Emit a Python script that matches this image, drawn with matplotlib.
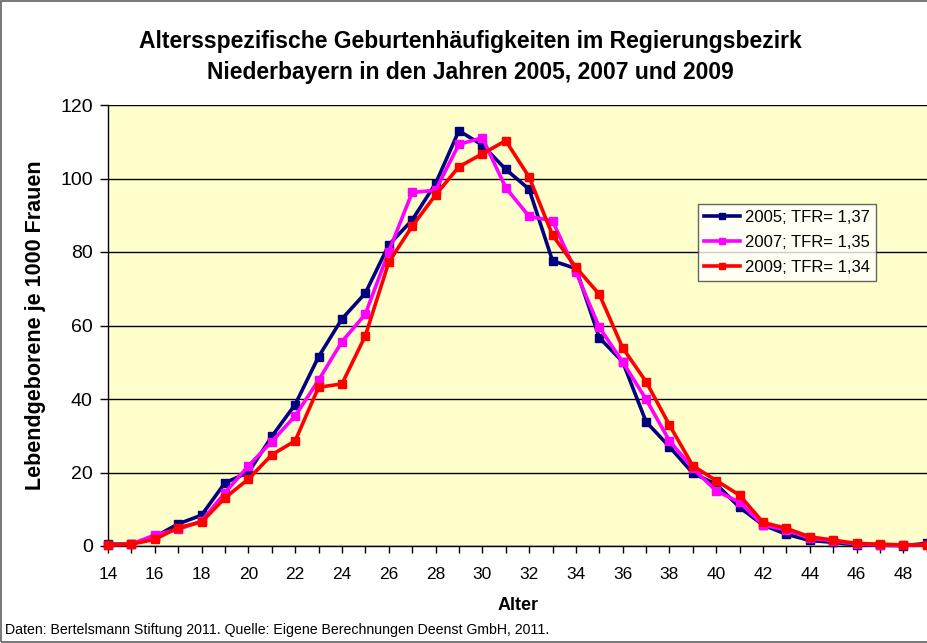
import matplotlib.pyplot as plt
import numpy as np
from matplotlib.patches import Rectangle

plt.rcParams['font.family'] = ['Liberation Sans', 'DejaVu Sans']

ages = list(range(14, 50))

rate_2005 = [0.5, 0.5, 2.5, 6.0, 8.4, 17.2, 20.0, 29.8, 38.5, 51.5, 61.8, 68.8,
             81.9, 88.7, 98.6, 113.0, 109.1, 102.5, 97.1, 77.6, 75.5, 56.7, 50.1,
             33.8, 27.0, 19.8, 16.8, 10.5, 5.7, 3.2, 1.5, 1.0, 0.3, 0.2, 0.1, 0.7]
rate_2007 = [0.3, 0.5, 3.0, 4.5, 6.8, 14.5, 21.8, 28.4, 35.4, 45.1, 55.6, 63.1,
             80.1, 96.2, 96.8, 109.3, 111.1, 97.5, 89.7, 88.5, 74.6, 59.5, 50.1,
             39.9, 28.6, 21.1, 15.0, 11.9, 5.7, 4.4, 2.1, 1.4, 0.5, 0.3, 0.2, 0.3]
rate_2009 = [0.3, 0.5, 1.8, 5.0, 6.5, 13.1, 18.2, 24.8, 28.6, 43.2, 44.1, 57.2,
             77.2, 87.0, 95.5, 103.2, 106.7, 110.3, 100.4, 84.6, 75.8, 68.5, 53.9,
             44.7, 32.9, 21.8, 17.8, 13.8, 6.4, 4.8, 2.5, 1.6, 0.7, 0.5, 0.3, 0.3]

labels = ['2005; TFR= 1,37', '2007; TFR= 1,35', '2009; TFR= 1,34']
colors = ['#000080', '#FF00FF', '#FF0000']

fig = plt.figure(figsize=(9.28, 6.43), dpi=100)
ax = fig.add_axes([108 / 928, 97 / 643, 1 - 108 / 928, 441 / 643])
ax.set_facecolor('#FFFFCC')

for rates, lab, col in zip([rate_2005, rate_2007, rate_2009], labels, colors):
    ax.plot(ages, rates, color=col, lw=2.6, marker='s', ms=5.5, label=lab,
            clip_on=False, zorder=3)

ax.set_xlim(14, 49.05)
ax.set_ylim(0, 120)
ax.set_yticks(np.arange(0, 121, 20))
ax.set_xticks(np.arange(14, 49, 2))
ax.set_xticks(np.arange(14, 50, 1), minor=True)
ax.grid(axis='y', color='black', lw=1)
ax.set_axisbelow(True)
ax.tick_params(axis='x', which='both', direction='out', length=5, width=1,
               labelsize=12.5, pad=10)
ax.tick_params(axis='y', direction='out', length=6, width=1, labelsize=14, pad=5)
for s in ['top', 'right']:
    ax.spines[s].set_visible(False)
for s in ['left', 'bottom']:
    ax.spines[s].set_color('black')
    ax.spines[s].set_linewidth(1)

ax.set_xlabel('Alter', fontsize=13, fontweight='bold', labelpad=11)
ax.set_ylabel('Lebendgeborene je 1000 Frauen', fontsize=15.5, fontweight='bold',
              labelpad=10)

fig.text(470 / 928, 1 - 57 / 643, 'Altersspezifische Geburtenhäufigkeiten im Regierungsbezirk\n'
         'Niederbayern in den Jahren 2005, 2007 und 2009',
         ha='center', va='center', fontsize=16.5, fontweight='bold', linespacing=1.4)

fig.text(5 / 928, 1 - 630 / 643, 'Daten: Bertelsmann Stiftung 2011. Quelle: Eigene '
         'Berechnungen Deenst GmbH, 2011.', ha='left', va='center', fontsize=10.2)

leg = ax.legend(loc='upper left', bbox_to_anchor=((698 - 108) / 820, 1 - (204 - 105) / 441),
                fontsize=12, frameon=True, fancybox=False, borderpad=0.35,
                labelspacing=0.6, handlelength=2.2, handletextpad=0.3,
                borderaxespad=0, markerscale=0.7)
leg.get_frame().set_edgecolor('#404040')
leg.get_frame().set_linewidth(1)

fig.patches.append(Rectangle((1 / 928, 0.002), 2, 0.996, transform=fig.transFigure,
                             fill=False, edgecolor='#606060', lw=1.2))

fig.savefig('out.png', dpi=100)
